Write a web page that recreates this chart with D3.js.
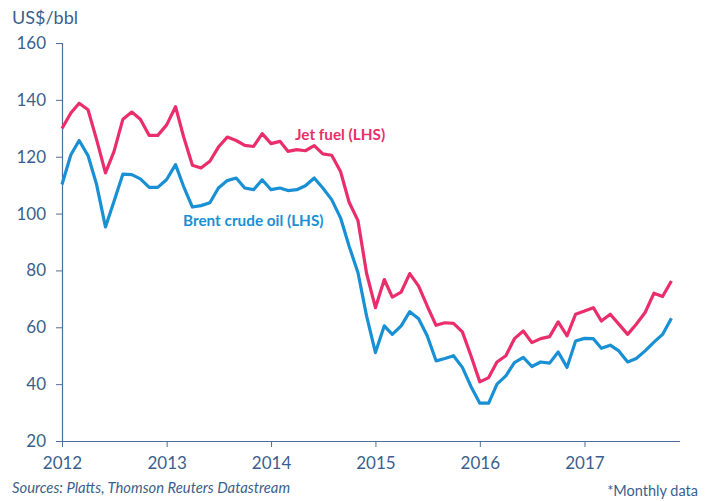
<!DOCTYPE html>
<html>
<head>
<meta charset="utf-8">
<script src="https://cdn.jsdelivr.net/npm/d3@7"></script>
<style>
  body { margin: 0; background: #fff; }
  svg { font-family: Lato, "Open Sans", sans-serif; }
</style>
</head>
<body>
<div id="chart"></div>
<script>
// monthly, Jan 2012 - Nov 2017
const jetFuel = [
  129.9, 135.4, 138.8, 136.5, 126.0, 114.3, 121.9, 133.2, 135.7, 133.2, 127.5, 127.5,
  131.2, 137.6, 127.1, 117.0, 116.0, 118.4, 123.4, 126.9, 125.7, 124.0, 123.6, 128.1,
  124.6, 125.4, 121.9, 122.5, 122.1, 123.9, 121.0, 120.5, 114.8, 104.0, 97.5, 79.0,
  66.9, 76.8, 70.6, 72.4, 78.9, 74.5, 67.5, 60.7, 61.6, 61.4, 58.4, 50.0,
  40.8, 42.3, 47.8, 50.0, 56.0, 58.7, 54.6, 56.0, 56.7, 61.9, 57.0, 64.6,
  65.7, 66.9, 62.2, 64.6, 61.1, 57.5, 61.1, 65.2, 72.0, 70.8, 76.3
];
const brent = [
  110.2, 120.7, 125.7, 120.4, 110.2, 95.3, 104.3, 113.9, 113.7, 112.2, 109.2, 109.2,
  112.0, 117.2, 109.6, 102.3, 102.8, 103.8, 109.0, 111.6, 112.5, 109.0, 108.4, 111.9,
  108.4, 109.0, 108.1, 108.4, 109.8, 112.5, 109.0, 104.9, 98.5, 88.5, 79.2, 64.0,
  51.1, 60.5, 57.5, 60.5, 65.5, 63.0, 57.0, 48.2, 49.0, 50.0, 45.9, 39.2,
  33.3, 33.3, 40.0, 42.9, 47.6, 49.4, 46.2, 47.8, 47.4, 51.3, 45.9, 55.2,
  56.1, 56.0, 52.6, 53.7, 51.7, 47.8, 49.0, 51.7, 54.8, 57.5, 63.2
];
const months = jetFuel.map((d, i) => new Date(2012, i, 1));
const yTicks = [20, 40, 60, 80, 100, 120, 140, 160];
const yearTicks = [2012, 2013, 2014, 2015, 2016, 2017];

const width = 705, height = 501;
const textColor = '#3b5f8c', axisColor = '#4d6f9c';
const jetColor = '#ea2e6c', brentColor = '#1a90d4';

const svg = d3.select('#chart').append('svg')
  .attr('width', width)
  .attr('height', height);

const x = d3.scaleTime()
  .domain([new Date(2012, 0, 1), new Date(2017, 11, 1)])
  .range([62, 680]);

const y = d3.scaleLinear()
  .domain([20, 160])
  .range([441, 43]);

// y axis
const yAxis = svg.append('g')
  .attr('transform', 'translate(62,0)')
  .call(d3.axisLeft(y).tickValues(yTicks).tickSize(6).tickPadding(10));
yAxis.select('.domain').attr('stroke', axisColor).attr('stroke-width', 1.2);
yAxis.selectAll('.tick line').attr('stroke', axisColor);
yAxis.selectAll('.tick text')
  .attr('fill', textColor)
  .style('font-size', '17px')
  .style('font-family', 'Lato, sans-serif');

// x axis
const xAxis = svg.append('g')
  .attr('transform', `translate(0,${y(20)})`)
  .call(d3.axisBottom(x)
    .tickValues(yearTicks.map(yr => new Date(yr, 0, 1)))
    .tickFormat(d3.timeFormat('%Y'))
    .tickSize(6).tickPadding(10));
xAxis.select('.domain').attr('stroke', axisColor).attr('stroke-width', 1.2)
  .attr('d', `M62,0.5H680`);
xAxis.selectAll('.tick line').attr('stroke', axisColor);
xAxis.selectAll('.tick text')
  .attr('fill', textColor)
  .style('font-size', '17px')
  .style('font-family', 'Lato, sans-serif');

// lines
const line = d3.line()
  .x((d, i) => x(months[i]))
  .y(d => y(d));

svg.append('path')
  .datum(jetFuel)
  .attr('fill', 'none')
  .attr('stroke', jetColor)
  .attr('stroke-width', 3.2)
  .attr('stroke-linejoin', 'round')
  .attr('d', line);

svg.append('path')
  .datum(brent)
  .attr('fill', 'none')
  .attr('stroke', brentColor)
  .attr('stroke-width', 3.2)
  .attr('stroke-linejoin', 'round')
  .attr('d', line);

// labels
svg.append('text')
  .attr('x', 12).attr('y', 24)
  .attr('fill', textColor)
  .style('font-size', '18px')
  .text('US$/bbl');

svg.append('text')
  .attr('x', 295).attr('y', 140)
  .attr('fill', jetColor)
  .style('font-size', '15.3px')
  .style('font-weight', 'bold')
  .text('Jet fuel (LHS)');

svg.append('text')
  .attr('x', 183).attr('y', 226)
  .attr('fill', brentColor)
  .style('font-size', '15.3px')
  .style('font-weight', 'bold')
  .text('Brent crude oil (LHS)');

svg.append('text')
  .attr('x', 12).attr('y', 493)
  .attr('fill', textColor)
  .style('font-size', '14.8px')
  .style('font-style', 'italic')
  .text('Sources: Platts, Thomson Reuters Datastream');

svg.append('text')
  .attr('x', 698).attr('y', 496)
  .attr('text-anchor', 'end')
  .attr('fill', textColor)
  .style('font-size', '14.5px')
  .text('*Monthly data');
</script>
</body>
</html>
